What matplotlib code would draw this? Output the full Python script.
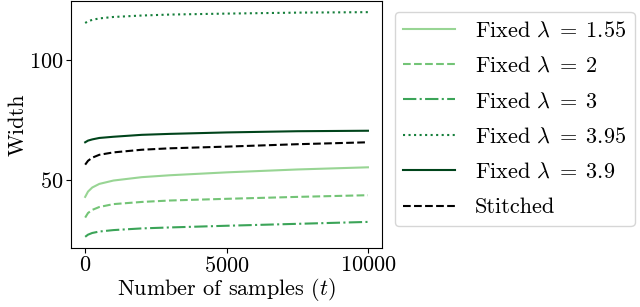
import numpy as np
import matplotlib
matplotlib.use("Agg")
import matplotlib.pyplot as plt

plt.rcParams['font.family'] = 'serif'
plt.rcParams['font.serif'] = ['cmr10']
plt.rcParams['mathtext.fontset'] = 'cm'
plt.rcParams['axes.formatter.use_mathtext'] = True
plt.rcParams['axes.unicode_minus'] = False

# samples (t) and interval widths
t = [0, 100, 250, 500, 1000, 2000, 3000, 5000, 7500, 10000]
w_155 = [43.0, 45.2, 46.9, 48.4, 49.8, 51.2, 52.0, 53.2, 54.4, 55.3]
w_2 = [34.4, 36.3, 37.6, 38.8, 40.0, 40.9, 41.5, 42.2, 43.0, 43.7]
w_3 = [26.4, 27.3, 28.0, 28.6, 29.2, 29.9, 30.3, 31.0, 31.8, 32.6]
w_395 = [115.3, 116.0, 116.6, 117.2, 117.8, 118.4, 118.8, 119.2, 119.6, 119.8]
w_39 = [65.7, 66.4, 66.9, 67.5, 68.0, 68.8, 69.2, 69.8, 70.3, 70.5]
w_stitched = [56.4, 58.0, 59.3, 60.5, 61.5, 62.6, 63.2, 63.9, 64.9, 65.7]

cmap = plt.get_cmap('Greens')
fs = 16

fig = plt.figure(figsize=(6.4, 3.07), dpi=100)
ax = fig.add_axes([0.111, 0.192, 0.486, 0.805])

ax.plot(t, w_155, color=cmap(0.4), linestyle='-', label=r'Fixed $\lambda\;=\;1.55$')
ax.plot(t, w_2, color=cmap(0.5), linestyle='--', label=r'Fixed $\lambda\;=\;2$')
ax.plot(t, w_3, color=cmap(0.65), linestyle='-.', label=r'Fixed $\lambda\;=\;3$')
ax.plot(t, w_395, color=cmap(0.8), linestyle=':', label=r'Fixed $\lambda\;=\;3.95$')
ax.plot(t, w_39, color=cmap(1.0), linestyle='-', label=r'Fixed $\lambda\;=\;3.9$')
ax.plot(t, w_stitched, color='black', linestyle='--', label='Stitched')

ax.set_xticks([0, 5000, 10000])
ax.set_yticks([50, 100])
ax.tick_params(labelsize=fs, pad=2)
ax.set_xlabel(r'Number of samples $(t)$', fontsize=fs, labelpad=0)
ax.set_ylabel('Width', fontsize=fs, labelpad=1)

ax.legend(loc='upper left', bbox_to_anchor=(1.04, 0.955), fontsize=fs,
          handlelength=2.3, handletextpad=0.9, labelspacing=0.71,
          borderaxespad=0, borderpad=0.4)

fig.savefig('out.png', dpi=100)
